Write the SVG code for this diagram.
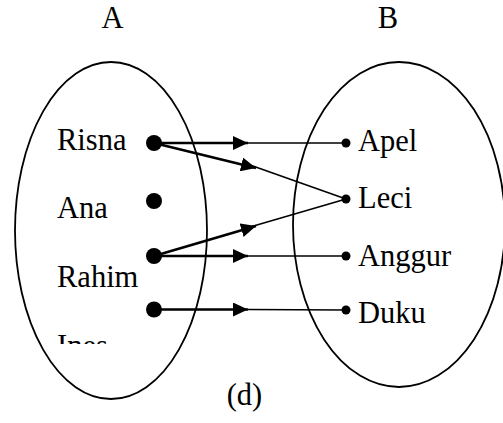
<svg xmlns="http://www.w3.org/2000/svg" width="503" height="423" viewBox="0 0 503 423">
<style>
.t{font-family:"Liberation Serif","Times New Roman",serif;font-size:30.5px;fill:#000}
.set{fill:none;stroke:#000;stroke-width:1.8}
.thick{stroke:#000;stroke-width:2.6;fill:none}
.thin{stroke:#000;stroke-width:1.6;fill:none}
.big{fill:#000}
.small{fill:#000}
</style>
<defs>
<marker id="ah" viewBox="0 0 15 14" refX="15" refY="7" markerWidth="15" markerHeight="14" markerUnits="userSpaceOnUse" orient="auto">
<path d="M0,0 L15,7 L0,14 z" fill="#000"/>
</marker>
<clipPath id="inesClip"><rect x="0" y="0" width="503" height="344"/></clipPath>
</defs>
<rect width="503" height="423" fill="#fff"/>
<g id="setA">
<ellipse class="set" cx="111" cy="230.5" rx="96" ry="168.5"/>
<text class="t" x="112.5" y="28" text-anchor="middle">A</text>
</g>
<g id="setB">
<ellipse class="set" cx="399" cy="224.5" rx="106" ry="162.5"/>
<text class="t" x="388" y="28" text-anchor="middle">B</text>
</g>
<g id="connectors">
<line class="thick" x1="154" y1="143" x2="248" y2="143" marker-end="url(#ah)"/>
<line class="thin" x1="248" y1="143" x2="346" y2="143"/>
<line class="thick" x1="154" y1="143" x2="256" y2="168" marker-end="url(#ah)"/>
<line class="thin" x1="250" y1="165" x2="346" y2="199"/>
<line class="thick" x1="154" y1="256" x2="256" y2="226" marker-end="url(#ah)"/>
<line class="thin" x1="250" y1="227" x2="346" y2="199"/>
<line class="thick" x1="154" y1="256" x2="248" y2="256" marker-end="url(#ah)"/>
<line class="thin" x1="248" y1="256" x2="346" y2="256"/>
<line class="thick" x1="154" y1="309.5" x2="248" y2="309.5" marker-end="url(#ah)"/>
<line class="thin" x1="248" y1="309.5" x2="346" y2="310"/>
</g>
<g id="risna"><circle class="big" cx="154" cy="143" r="8"/><text class="t" x="57" y="150">Risna</text></g>
<g id="ana"><circle class="big" cx="154" cy="201" r="8"/><text class="t" x="57" y="218">Ana</text></g>
<g id="rahim"><circle class="big" cx="154" cy="256" r="8"/><text class="t" x="57" y="287">Rahim</text></g>
<g id="ines"><circle class="big" cx="154" cy="309.5" r="8"/><text class="t" x="57" y="356" clip-path="url(#inesClip)">Ines</text></g>
<g id="apel"><circle class="small" cx="346" cy="143" r="4.5"/><text class="t" x="358" y="151">Apel</text></g>
<g id="leci"><circle class="small" cx="346" cy="199" r="4.5"/><text class="t" x="358" y="208">Leci</text></g>
<g id="anggur"><circle class="small" cx="346" cy="256" r="4.5"/><text class="t" x="358" y="266">Anggur</text></g>
<g id="duku"><circle class="small" cx="346" cy="310" r="4.5"/><text class="t" x="358" y="323">Duku</text></g>
<g id="caption"><text class="t" x="244.5" y="405" text-anchor="middle">(d)</text></g>
</svg>
